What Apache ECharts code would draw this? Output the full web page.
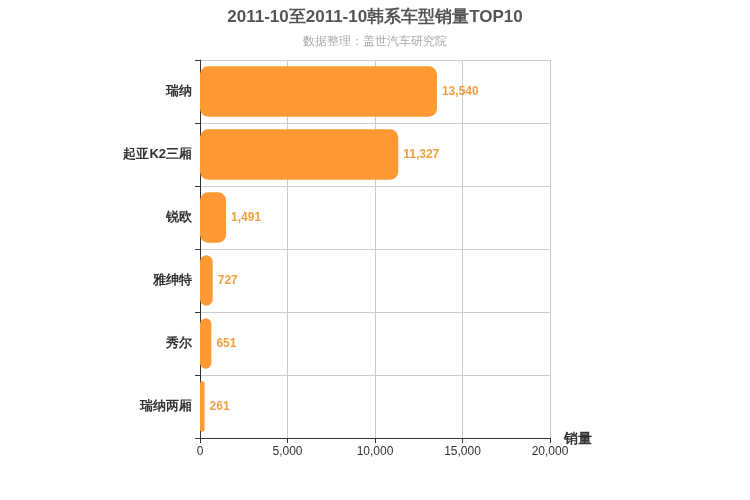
<!DOCTYPE html>
<html>
<head>
<meta charset="utf-8">
<script src="https://cdn.jsdelivr.net/npm/echarts@6/dist/echarts.min.js"></script>
<style>html,body{margin:0;padding:0;}#main{width:750px;height:500px;}</style>
</head>
<body>
<div id="main"></div>
<script>
// 车型和销量（自下而上）
var models = ['瑞纳两厢', '秀尔', '雅绅特', '锐欧', '起亚K2三厢', '瑞纳'];
var sales = [261, 651, 727, 1491, 11327, 13540];
var xTicks = [0, 5000, 10000, 15000, 20000];

var option = {
	title: {
		text: '2011-10至2011-10韩系车型销量TOP10',
		subtext: '数据整理：盖世汽车研究院',
		left: 'center',
		top: 4,
		itemGap: 10,
		textStyle: { fontSize: 17, fontWeight: 'bold', color: '#555', fontFamily: 'Arial' },
		subtextStyle: { fontSize: 12, color: '#aaa' }
	},
	grid: { left: 200, right: 200, top: 60, bottom: 62 },
	xAxis: {
		type: 'value',
		min: xTicks[0],
		max: xTicks[xTicks.length - 1],
		interval: 5000,
		name: '销量',
		nameGap: 14,
		nameTextStyle: { fontSize: 14, fontWeight: 'bold', color: '#333', verticalAlign: 'top', padding: [-6, 0, 0, 0] },
		axisLine: { show: true, lineStyle: { color: '#333' } },
		axisTick: { show: true, lineStyle: { color: '#333' } },
		axisLabel: { color: '#333', fontSize: 12 },
		splitLine: { show: true, lineStyle: { color: '#ccc' } }
	},
	yAxis: {
		type: 'category',
		data: models,
		axisLine: { lineStyle: { color: '#333' } },
		axisTick: { show: true, lineStyle: { color: '#333' } },
		axisLabel: { color: '#333', fontSize: 13, fontWeight: 'bold' },
		splitLine: { show: true, lineStyle: { color: '#ccc' } }
	},
	series: [{
		type: 'bar',
		data: sales,
		barWidth: '80%',
		itemStyle: { color: '#ff9933', borderRadius: 8 },
		label: {
			show: true,
			position: 'right',
			color: '#f0a040',
			fontWeight: 'bold',
			fontSize: 12,
			formatter: function(p) { return p.value.toLocaleString('en-US'); }
		}
	}]
};
var myChart = echarts.init(document.getElementById('main'));
myChart.setOption(option);
</script>
</body>
</html>
